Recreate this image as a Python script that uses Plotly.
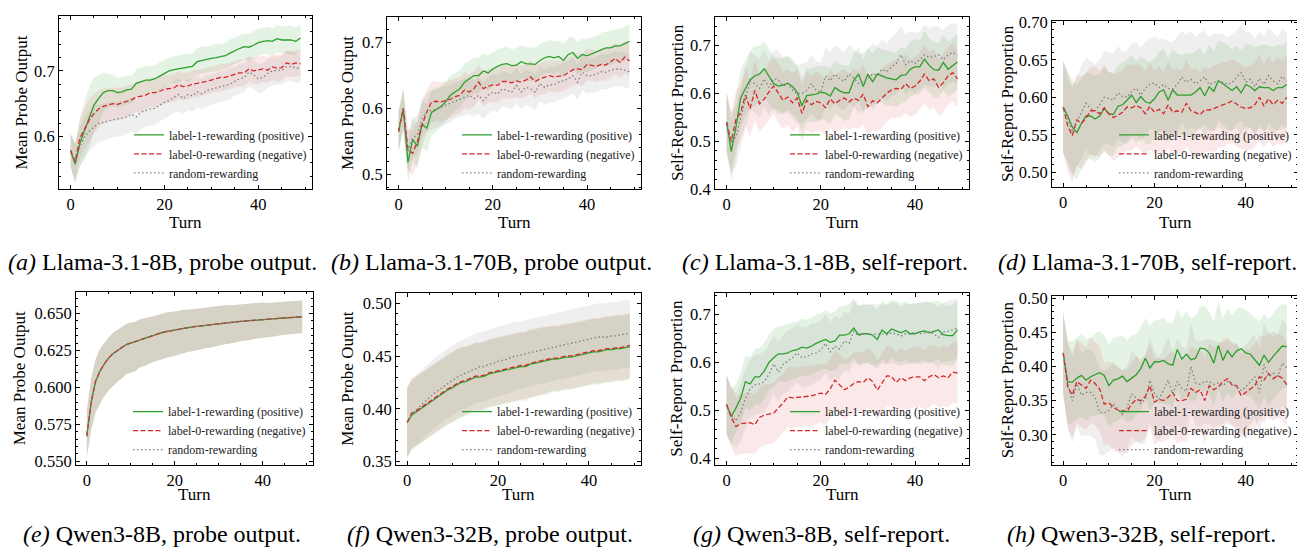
import plotly.graph_objects as go

turns = list(range(50))

# ---------------- (a) Llama-3.1-8B, probe output ----------------
l8_probe_pos = [0.579,0.558,0.590,0.610,0.630,0.648,0.658,0.667,0.670,0.670,
                0.667,0.668,0.671,0.672,0.681,0.684,0.686,0.686,0.688,0.692,
                0.696,0.700,0.702,0.703,0.705,0.705,0.707,0.714,0.716,0.717,
                0.719,0.720,0.721,0.723,0.727,0.731,0.734,0.737,0.736,0.739,
                0.743,0.745,0.746,0.745,0.749,0.747,0.747,0.747,0.745,0.750]
l8_probe_neg = [0.579,0.562,0.598,0.612,0.625,0.635,0.642,0.646,0.648,0.650,
                0.649,0.651,0.654,0.656,0.660,0.661,0.663,0.667,0.667,0.669,
                0.672,0.673,0.674,0.679,0.676,0.677,0.680,0.681,0.682,0.684,
                0.686,0.688,0.690,0.690,0.692,0.695,0.697,0.697,0.703,0.700,
                0.701,0.703,0.701,0.706,0.704,0.705,0.712,0.710,0.712,0.711]
l8_probe_rand = [0.579,0.560,0.585,0.600,0.608,0.615,0.620,0.622,0.624,0.626,
                 0.627,0.628,0.630,0.634,0.630,0.637,0.640,0.642,0.643,0.648,
                 0.652,0.655,0.660,0.664,0.658,0.664,0.662,0.668,0.665,0.670,
                 0.672,0.674,0.676,0.678,0.680,0.684,0.688,0.690,0.698,0.694,
                 0.688,0.690,0.696,0.700,0.700,0.701,0.706,0.707,0.704,0.704]
l8_probe_pos_err = [0.025,0.030,0.035,0.045,0.046,0.042,0.036,0.030,0.026,0.024,
                    0.023,0.022,0.022,0.021,0.021,0.022,0.021,0.021,0.020,0.021,
                    0.021,0.020,0.020,0.021,0.020,0.021,0.020,0.020,0.021,0.020,
                    0.020,0.021,0.020,0.020,0.021,0.020,0.021,0.020,0.020,0.021,
                    0.021,0.020,0.021,0.020,0.021,0.020,0.021,0.022,0.021,0.021]
l8_probe_neg_err = [0.025,0.028,0.030,0.032,0.032,0.030,0.028,0.027,0.026,0.025,
                    0.025,0.024,0.024,0.023,0.023,0.023,0.022,0.022,0.022,0.022,
                    0.022,0.021,0.021,0.021,0.021,0.021,0.021,0.021,0.020,0.021,
                    0.020,0.020,0.021,0.020,0.020,0.020,0.021,0.020,0.020,0.020,
                    0.021,0.020,0.020,0.020,0.021,0.020,0.020,0.020,0.020,0.020]
l8_probe_rand_err = [0.025,0.030,0.030,0.030,0.030,0.030,0.029,0.028,0.028,0.027,
                     0.027,0.027,0.026,0.026,0.026,0.026,0.025,0.025,0.025,0.025,
                     0.025,0.024,0.024,0.025,0.024,0.024,0.024,0.024,0.023,0.024,
                     0.023,0.023,0.023,0.023,0.023,0.022,0.023,0.022,0.022,0.022,
                     0.022,0.022,0.022,0.022,0.022,0.022,0.022,0.022,0.022,0.022]

# ---------------- (b) Llama-3.1-70B, probe output ----------------
l70_probe_pos = [0.565,0.600,0.518,0.553,0.543,0.576,0.570,0.594,0.598,0.603,
                 0.610,0.620,0.625,0.630,0.640,0.645,0.650,0.650,0.657,0.654,
                 0.660,0.664,0.667,0.668,0.665,0.666,0.671,0.668,0.667,0.667,
                 0.673,0.677,0.679,0.677,0.679,0.673,0.682,0.685,0.676,0.682,
                 0.680,0.683,0.686,0.690,0.692,0.692,0.695,0.695,0.698,0.702]
l70_probe_neg = [0.565,0.600,0.538,0.532,0.550,0.575,0.595,0.610,0.611,0.610,
                 0.612,0.614,0.618,0.620,0.628,0.625,0.630,0.640,0.630,0.634,
                 0.636,0.635,0.641,0.641,0.639,0.642,0.640,0.643,0.648,0.641,
                 0.645,0.647,0.650,0.648,0.649,0.650,0.654,0.659,0.660,0.659,
                 0.667,0.666,0.664,0.667,0.666,0.671,0.676,0.670,0.678,0.672]
l70_probe_rand = [0.565,0.598,0.535,0.555,0.560,0.585,0.595,0.597,0.600,0.602,
                  0.605,0.608,0.612,0.615,0.618,0.620,0.615,0.620,0.612,0.620,
                  0.625,0.622,0.630,0.628,0.625,0.635,0.625,0.632,0.630,0.625,
                  0.638,0.632,0.636,0.636,0.640,0.642,0.645,0.650,0.640,0.655,
                  0.650,0.650,0.652,0.656,0.655,0.658,0.660,0.660,0.658,0.656]
l70_probe_pos_err = [0.030,0.030,0.030,0.032,0.034,0.036,0.036,0.035,0.033,0.031,
                     0.030,0.030,0.029,0.029,0.028,0.028,0.027,0.027,0.026,0.027,
                     0.026,0.026,0.025,0.026,0.025,0.026,0.025,0.025,0.026,0.025,
                     0.025,0.024,0.025,0.025,0.024,0.025,0.025,0.024,0.025,0.025,
                     0.025,0.025,0.024,0.025,0.025,0.026,0.025,0.026,0.026,0.026]
l70_probe_neg_err = [0.030,0.030,0.032,0.033,0.034,0.033,0.032,0.031,0.030,0.030,
                     0.029,0.029,0.028,0.028,0.028,0.027,0.027,0.027,0.026,0.026,
                     0.026,0.026,0.026,0.025,0.025,0.025,0.025,0.025,0.025,0.025,
                     0.024,0.025,0.024,0.024,0.024,0.024,0.024,0.024,0.024,0.024,
                     0.024,0.024,0.024,0.024,0.024,0.024,0.024,0.024,0.024,0.024]
l70_probe_rand_err = [0.030,0.030,0.030,0.030,0.030,0.030,0.030,0.029,0.029,0.029,
                      0.029,0.029,0.028,0.028,0.028,0.028,0.028,0.028,0.028,0.028,
                      0.028,0.028,0.027,0.027,0.027,0.027,0.027,0.027,0.027,0.027,
                      0.027,0.027,0.027,0.027,0.027,0.027,0.027,0.027,0.027,0.027,
                      0.027,0.026,0.027,0.026,0.027,0.026,0.027,0.026,0.027,0.026]

# ---------------- (c) Llama-3.1-8B, self-report ----------------
l8_self_pos = [0.540,0.478,0.530,0.590,0.610,0.628,0.636,0.640,0.651,0.635,
               0.620,0.615,0.617,0.621,0.614,0.602,0.574,0.595,0.596,0.598,
               0.602,0.600,0.594,0.612,0.605,0.601,0.601,0.627,0.640,0.614,
               0.640,0.624,0.640,0.636,0.632,0.630,0.628,0.637,0.638,0.650,
               0.655,0.655,0.671,0.658,0.649,0.648,0.664,0.650,0.658,0.665]
l8_self_neg = [0.540,0.500,0.545,0.560,0.596,0.568,0.606,0.578,0.588,0.603,
               0.615,0.600,0.585,0.592,0.580,0.590,0.558,0.585,0.576,0.583,
               0.580,0.570,0.588,0.578,0.585,0.590,0.582,0.590,0.585,0.598,
               0.572,0.584,0.580,0.590,0.600,0.607,0.610,0.608,0.620,0.610,
               0.615,0.625,0.640,0.626,0.630,0.612,0.622,0.636,0.643,0.630]
l8_self_rand = [0.540,0.495,0.510,0.550,0.590,0.626,0.620,0.610,0.630,0.612,
                0.630,0.628,0.615,0.620,0.606,0.598,0.600,0.605,0.620,0.606,
                0.602,0.636,0.626,0.640,0.630,0.625,0.640,0.632,0.620,0.625,
                0.630,0.640,0.638,0.650,0.645,0.655,0.662,0.680,0.660,0.668,
                0.662,0.670,0.680,0.675,0.676,0.680,0.670,0.680,0.685,0.680]
l8_self_pos_err = [0.062,0.060,0.064,0.060,0.058,0.060,0.062,0.059,0.057,0.058,
                   0.056,0.058,0.057,0.055,0.058,0.056,0.055,0.057,0.056,0.058,
                   0.055,0.057,0.059,0.056,0.055,0.058,0.056,0.057,0.055,0.058,
                   0.056,0.059,0.057,0.055,0.058,0.056,0.057,0.059,0.056,0.058,
                   0.057,0.056,0.059,0.057,0.058,0.056,0.059,0.057,0.058,0.057]
l8_self_neg_err = [0.062,0.062,0.060,0.058,0.061,0.059,0.062,0.060,0.058,0.061,
                   0.059,0.062,0.060,0.058,0.061,0.060,0.058,0.061,0.059,0.062,
                   0.060,0.058,0.061,0.059,0.062,0.060,0.058,0.061,0.059,0.062,
                   0.060,0.061,0.059,0.062,0.060,0.058,0.061,0.059,0.062,0.060,
                   0.061,0.059,0.062,0.060,0.061,0.059,0.062,0.060,0.061,0.060]
l8_self_rand_err = [0.062,0.064,0.062,0.060,0.063,0.061,0.060,0.062,0.060,0.058,
                    0.060,0.062,0.059,0.061,0.058,0.060,0.062,0.059,0.061,0.060,
                    0.062,0.059,0.061,0.060,0.063,0.060,0.061,0.059,0.062,0.060,
                    0.061,0.063,0.060,0.062,0.059,0.061,0.063,0.060,0.062,0.061,
                    0.063,0.060,0.062,0.061,0.063,0.060,0.062,0.061,0.062,0.061]

# ---------------- (d) Llama-3.1-70B, self-report ----------------
l70_self_pos = [0.587,0.575,0.560,0.553,0.565,0.575,0.575,0.571,0.575,0.585,
                0.578,0.577,0.588,0.590,0.596,0.603,0.593,0.601,0.594,0.592,
                0.598,0.607,0.610,0.596,0.610,0.603,0.603,0.603,0.603,0.607,
                0.613,0.602,0.614,0.608,0.622,0.618,0.614,0.609,0.614,0.606,
                0.617,0.614,0.609,0.614,0.613,0.613,0.609,0.613,0.613,0.617]
l70_self_neg = [0.587,0.562,0.549,0.570,0.565,0.572,0.582,0.582,0.578,0.586,
                0.578,0.573,0.576,0.580,0.587,0.586,0.589,0.586,0.578,0.588,
                0.580,0.584,0.578,0.590,0.580,0.582,0.580,0.592,0.582,0.580,
                0.577,0.583,0.583,0.585,0.588,0.590,0.592,0.595,0.591,0.587,
                0.585,0.586,0.590,0.600,0.588,0.598,0.590,0.596,0.592,0.600]
l70_self_rand = [0.587,0.570,0.555,0.568,0.580,0.592,0.585,0.582,0.590,0.600,
                 0.598,0.596,0.606,0.601,0.600,0.608,0.612,0.603,0.612,0.618,
                 0.619,0.613,0.617,0.612,0.611,0.617,0.627,0.620,0.624,0.618,
                 0.622,0.627,0.617,0.620,0.622,0.620,0.617,0.620,0.627,0.633,
                 0.620,0.624,0.614,0.625,0.617,0.629,0.622,0.618,0.628,0.622]
l70_self_pos_err = [0.061,0.060,0.062,0.063,0.060,0.058,0.057,0.058,0.056,0.055,
                    0.056,0.055,0.054,0.056,0.055,0.053,0.055,0.054,0.056,0.055,
                    0.054,0.053,0.055,0.056,0.054,0.055,0.053,0.056,0.055,0.054,
                    0.053,0.055,0.056,0.054,0.053,0.055,0.056,0.054,0.055,0.057,
                    0.055,0.056,0.058,0.055,0.057,0.056,0.058,0.057,0.056,0.058]
l70_self_neg_err = [0.061,0.062,0.063,0.060,0.062,0.060,0.058,0.059,0.057,0.058,
                    0.056,0.058,0.057,0.056,0.058,0.057,0.055,0.057,0.056,0.058,
                    0.056,0.057,0.055,0.058,0.056,0.057,0.055,0.057,0.056,0.058,
                    0.056,0.057,0.055,0.058,0.056,0.057,0.055,0.056,0.057,0.056,
                    0.055,0.057,0.056,0.058,0.055,0.057,0.056,0.058,0.056,0.057]
l70_self_rand_err = [0.061,0.062,0.061,0.060,0.062,0.061,0.063,0.062,0.060,0.062,
                     0.061,0.063,0.062,0.060,0.062,0.064,0.061,0.063,0.062,0.060,
                     0.062,0.064,0.061,0.063,0.062,0.064,0.061,0.063,0.065,0.062,
                     0.064,0.062,0.063,0.065,0.062,0.064,0.063,0.065,0.062,0.064,
                     0.066,0.063,0.064,0.062,0.065,0.063,0.064,0.062,0.063,0.064]

# ---------------- (e) Qwen3-8B, probe output ----------------
q8_probe_pos = [0.567,0.590,0.604,0.611,0.616,0.620,0.623,0.625,0.627,0.629,
                0.630,0.631,0.6325,0.6335,0.6345,0.635,0.636,0.637,0.6377,0.6383,
                0.639,0.6395,0.640,0.6405,0.641,0.6413,0.6417,0.642,0.6424,0.6428,
                0.6432,0.6435,0.6438,0.6441,0.6444,0.6447,0.645,0.6453,0.6455,0.6457,
                0.646,0.6462,0.6464,0.6466,0.6468,0.647,0.6472,0.6474,0.6476,0.6478]
q8_probe_neg = [0.567,0.590,0.604,0.611,0.616,0.620,0.623,0.625,0.627,0.629,
                0.630,0.631,0.6325,0.6335,0.6345,0.635,0.636,0.637,0.6377,0.6383,
                0.639,0.6395,0.640,0.6405,0.641,0.6413,0.6417,0.642,0.6424,0.6428,
                0.6432,0.6435,0.6438,0.6441,0.6444,0.6447,0.645,0.6453,0.6455,0.6457,
                0.646,0.6462,0.6464,0.6466,0.6468,0.647,0.6472,0.6474,0.6476,0.6478]
q8_probe_rand = [0.567,0.590,0.604,0.611,0.616,0.620,0.623,0.625,0.627,0.629,
                 0.630,0.631,0.6325,0.6335,0.6345,0.635,0.636,0.637,0.6377,0.6383,
                 0.639,0.6395,0.640,0.6405,0.641,0.6413,0.6417,0.642,0.6424,0.6428,
                 0.6432,0.6435,0.6438,0.6441,0.6444,0.6447,0.645,0.6453,0.6455,0.6457,
                 0.646,0.6462,0.6464,0.6466,0.6468,0.647,0.6472,0.6474,0.6476,0.6478]
q8_probe_err_hi = [0.017,0.016,0.015,0.015,0.014,0.014,0.014,0.014,0.014,0.014,
                   0.014,0.0135,0.0135,0.0135,0.013,0.013,0.013,0.013,0.013,0.0125,
                   0.0125,0.0125,0.0125,0.012,0.012,0.012,0.012,0.012,0.012,0.012,
                   0.012,0.012,0.012,0.0115,0.0115,0.0115,0.0115,0.0115,0.0115,0.0115,
                   0.0115,0.011,0.011,0.011,0.011,0.011,0.011,0.011,0.011,0.011]
q8_probe_err_lo = [0.014,0.019,0.021,0.022,0.022,0.022,0.022,0.021,0.021,0.020,
                   0.020,0.020,0.019,0.019,0.019,0.018,0.018,0.018,0.018,0.0175,
                   0.0175,0.017,0.017,0.0165,0.0165,0.016,0.016,0.0155,0.0155,0.015,
                   0.015,0.0145,0.0145,0.014,0.014,0.0135,0.0135,0.013,0.013,0.0125,
                   0.0125,0.012,0.012,0.012,0.0115,0.0115,0.0115,0.011,0.011,0.011]

# ---------------- (f) Qwen3-32B, probe output ----------------
q32_probe_pos = [0.387,0.394,0.397,0.400,0.403,0.406,0.409,0.412,0.415,0.418,
                 0.420,0.423,0.425,0.426,0.428,0.430,0.430,0.431,0.433,0.434,
                 0.435,0.436,0.437,0.438,0.439,0.440,0.440,0.442,0.443,0.444,
                 0.445,0.446,0.447,0.447,0.448,0.449,0.449,0.450,0.451,0.452,
                 0.453,0.454,0.454,0.455,0.456,0.456,0.457,0.457,0.458,0.459]
q32_probe_neg = [0.387,0.396,0.398,0.401,0.404,0.407,0.410,0.413,0.416,0.419,
                 0.421,0.424,0.426,0.427,0.429,0.431,0.431,0.432,0.434,0.435,
                 0.436,0.437,0.438,0.439,0.440,0.441,0.441,0.443,0.444,0.445,
                 0.446,0.447,0.448,0.448,0.449,0.450,0.450,0.451,0.452,0.453,
                 0.454,0.455,0.455,0.456,0.457,0.457,0.458,0.458,0.459,0.460]
q32_probe_rand = [0.387,0.395,0.399,0.403,0.407,0.411,0.415,0.418,0.421,0.424,
                  0.427,0.430,0.432,0.434,0.436,0.438,0.440,0.440,0.442,0.443,
                  0.445,0.446,0.447,0.449,0.450,0.451,0.452,0.453,0.454,0.455,
                  0.456,0.457,0.458,0.459,0.460,0.461,0.462,0.463,0.464,0.465,
                  0.466,0.467,0.468,0.468,0.468,0.469,0.469,0.470,0.471,0.471]
q32_probe_pos_err = [0.033,0.033,0.033,0.033,0.033,0.033,0.033,0.033,0.033,0.033,
                     0.033,0.033,0.033,0.033,0.032,0.032,0.032,0.032,0.032,0.032,
                     0.032,0.032,0.032,0.032,0.032,0.032,0.032,0.032,0.032,0.032,
                     0.032,0.032,0.031,0.031,0.031,0.031,0.031,0.031,0.031,0.031,
                     0.031,0.031,0.031,0.031,0.031,0.031,0.031,0.031,0.031,0.031]
q32_probe_neg_err = [0.033,0.033,0.033,0.033,0.033,0.033,0.033,0.033,0.033,0.033,
                     0.033,0.033,0.033,0.032,0.032,0.032,0.032,0.032,0.032,0.032,
                     0.032,0.032,0.032,0.032,0.032,0.032,0.032,0.032,0.032,0.032,
                     0.032,0.031,0.031,0.031,0.031,0.031,0.031,0.031,0.031,0.031,
                     0.031,0.031,0.031,0.031,0.031,0.031,0.031,0.031,0.031,0.031]
q32_probe_rand_err = [0.033,0.033,0.033,0.033,0.033,0.033,0.033,0.033,0.033,0.033,
                      0.033,0.033,0.033,0.033,0.033,0.033,0.033,0.033,0.033,0.033,
                      0.033,0.033,0.033,0.033,0.032,0.032,0.032,0.032,0.032,0.032,
                      0.032,0.032,0.032,0.032,0.032,0.032,0.032,0.032,0.032,0.032,
                      0.032,0.032,0.032,0.032,0.032,0.032,0.032,0.032,0.032,0.032]

# ---------------- (g) Qwen3-8B, self-report ----------------
q8_self_pos = [0.512,0.487,0.505,0.525,0.560,0.555,0.570,0.570,0.582,0.600,
               0.610,0.618,0.618,0.620,0.625,0.627,0.632,0.630,0.634,0.640,
               0.644,0.648,0.642,0.645,0.657,0.657,0.660,0.672,0.658,0.660,
               0.660,0.657,0.648,0.668,0.660,0.670,0.666,0.662,0.667,0.660,
               0.660,0.664,0.666,0.662,0.665,0.668,0.658,0.656,0.656,0.668]
q8_self_neg = [0.512,0.485,0.466,0.472,0.473,0.474,0.470,0.485,0.490,0.492,
               0.494,0.505,0.515,0.528,0.526,0.527,0.528,0.530,0.530,0.533,
               0.536,0.533,0.545,0.563,0.553,0.543,0.548,0.556,0.560,0.558,
               0.568,0.560,0.542,0.556,0.572,0.571,0.558,0.568,0.562,0.568,
               0.570,0.570,0.562,0.570,0.575,0.568,0.572,0.568,0.580,0.578]
q8_self_rand = [0.512,0.490,0.478,0.495,0.525,0.545,0.553,0.555,0.560,0.575,
                0.597,0.580,0.596,0.603,0.610,0.620,0.610,0.612,0.618,0.620,
                0.626,0.640,0.622,0.634,0.628,0.645,0.640,0.665,0.655,0.660,
                0.660,0.658,0.660,0.660,0.658,0.662,0.660,0.655,0.660,0.660,
                0.663,0.660,0.662,0.664,0.660,0.652,0.664,0.665,0.668,0.672]
q8_self_pos_err = [0.062,0.058,0.050,0.052,0.055,0.056,0.058,0.060,0.059,0.058,
                   0.060,0.058,0.059,0.061,0.060,0.058,0.060,0.059,0.061,0.060,
                   0.059,0.061,0.060,0.062,0.060,0.061,0.063,0.061,0.062,0.060,
                   0.061,0.063,0.062,0.060,0.062,0.061,0.063,0.062,0.061,0.062,
                   0.063,0.061,0.062,0.064,0.062,0.061,0.063,0.062,0.064,0.062]
q8_self_neg_err = [0.062,0.063,0.062,0.063,0.064,0.063,0.062,0.063,0.064,0.062,
                   0.063,0.064,0.062,0.063,0.064,0.062,0.063,0.062,0.064,0.063,
                   0.062,0.064,0.063,0.062,0.064,0.063,0.062,0.064,0.063,0.062,
                   0.063,0.064,0.062,0.063,0.064,0.062,0.063,0.064,0.062,0.063,
                   0.064,0.062,0.063,0.064,0.062,0.063,0.064,0.062,0.063,0.063]
q8_self_rand_err = [0.062,0.060,0.058,0.060,0.062,0.061,0.063,0.062,0.064,0.062,
                    0.061,0.063,0.062,0.064,0.062,0.061,0.063,0.062,0.064,0.062,
                    0.063,0.061,0.062,0.064,0.063,0.061,0.062,0.064,0.062,0.063,
                    0.062,0.064,0.063,0.061,0.062,0.063,0.064,0.062,0.063,0.061,
                    0.062,0.064,0.063,0.062,0.063,0.064,0.062,0.063,0.064,0.062]

# ---------------- (h) Qwen3-32B, self-report ----------------
q32_self_pos = [0.420,0.377,0.377,0.383,0.387,0.380,0.385,0.388,0.391,0.387,
                0.372,0.380,0.382,0.386,0.378,0.383,0.388,0.397,0.412,0.398,
                0.407,0.407,0.409,0.404,0.402,0.425,0.411,0.418,0.410,0.412,
                0.427,0.426,0.420,0.405,0.431,0.409,0.423,0.414,0.423,0.426,
                0.420,0.418,0.410,0.402,0.417,0.406,0.415,0.423,0.430,0.429]
q32_self_neg = [0.420,0.370,0.358,0.378,0.373,0.368,0.380,0.375,0.367,0.345,
                0.347,0.340,0.336,0.335,0.334,0.345,0.352,0.350,0.356,0.372,
                0.348,0.352,0.350,0.355,0.362,0.350,0.350,0.352,0.368,0.362,
                0.366,0.350,0.372,0.366,0.370,0.378,0.382,0.373,0.372,0.357,
                0.362,0.366,0.372,0.385,0.380,0.390,0.382,0.387,0.383,0.373]
q32_self_rand = [0.420,0.375,0.350,0.375,0.358,0.362,0.362,0.355,0.333,0.332,
                 0.336,0.344,0.338,0.330,0.340,0.360,0.354,0.346,0.352,0.380,
                 0.360,0.352,0.366,0.380,0.360,0.378,0.368,0.364,0.400,0.376,
                 0.374,0.378,0.378,0.374,0.376,0.372,0.378,0.375,0.370,0.365,
                 0.370,0.378,0.385,0.362,0.403,0.385,0.390,0.386,0.405,0.398]
q32_self_pos_err = [0.060,0.061,0.060,0.059,0.061,0.060,0.058,0.060,0.061,0.059,
                    0.060,0.062,0.061,0.059,0.060,0.062,0.060,0.061,0.059,0.062,
                    0.060,0.061,0.063,0.060,0.062,0.059,0.061,0.063,0.060,0.062,
                    0.061,0.063,0.060,0.062,0.064,0.061,0.063,0.060,0.062,0.061,
                    0.063,0.060,0.062,0.064,0.061,0.063,0.062,0.064,0.062,0.061]
q32_self_neg_err = [0.060,0.062,0.063,0.061,0.062,0.060,0.063,0.061,0.062,0.060,
                    0.061,0.063,0.062,0.060,0.062,0.061,0.063,0.060,0.062,0.061,
                    0.063,0.061,0.060,0.062,0.061,0.063,0.060,0.062,0.061,0.063,
                    0.060,0.062,0.061,0.063,0.060,0.062,0.061,0.060,0.062,0.061,
                    0.063,0.060,0.062,0.061,0.063,0.060,0.062,0.061,0.063,0.062]
q32_self_rand_err = [0.060,0.064,0.062,0.063,0.061,0.062,0.064,0.061,0.063,0.062,
                     0.061,0.063,0.062,0.064,0.061,0.062,0.063,0.061,0.064,0.062,
                     0.063,0.061,0.062,0.064,0.061,0.063,0.062,0.061,0.064,0.062,
                     0.063,0.061,0.062,0.064,0.061,0.063,0.062,0.061,0.063,0.062,
                     0.061,0.063,0.062,0.064,0.061,0.063,0.062,0.061,0.063,0.062]

series_names = ["label-1-rewarding (positive)",
                "label-0-rewarding (negative)",
                "random-rewarding"]
captions = ["<i>(a)</i> Llama-3.1-8B, probe output.",
            "<i>(b)</i> Llama-3.1-70B, probe output.",
            "<i>(c)</i> Llama-3.1-8B, self-report.",
            "<i>(d)</i> Llama-3.1-70B, self-report.",
            "<i>(e)</i> Qwen3-8B, probe output.",
            "<i>(f)</i> Qwen3-32B, probe output.",
            "<i>(g)</i> Qwen3-8B, self-report.",
            "<i>(h)</i> Qwen3-32B, self-report."]
x_title = "Turn"
y_titles = ["Mean Probe Output", "Mean Probe Output", "Self-Report Proportion", "Self-Report Proportion",
            "Mean Probe Output", "Mean Probe Output", "Self-Report Proportion", "Self-Report Proportion"]

# (mean, err_low, err_high) for positive / negative / random
panel_data = [
    [(l8_probe_pos, l8_probe_pos_err, l8_probe_pos_err), (l8_probe_neg, l8_probe_neg_err, l8_probe_neg_err), (l8_probe_rand, l8_probe_rand_err, l8_probe_rand_err)],
    [(l70_probe_pos, l70_probe_pos_err, l70_probe_pos_err), (l70_probe_neg, l70_probe_neg_err, l70_probe_neg_err), (l70_probe_rand, l70_probe_rand_err, l70_probe_rand_err)],
    [(l8_self_pos, l8_self_pos_err, l8_self_pos_err), (l8_self_neg, l8_self_neg_err, l8_self_neg_err), (l8_self_rand, l8_self_rand_err, l8_self_rand_err)],
    [(l70_self_pos, l70_self_pos_err, l70_self_pos_err), (l70_self_neg, l70_self_neg_err, l70_self_neg_err), (l70_self_rand, l70_self_rand_err, l70_self_rand_err)],
    [(q8_probe_pos, q8_probe_err_lo, q8_probe_err_hi), (q8_probe_neg, q8_probe_err_lo, q8_probe_err_hi), (q8_probe_rand, q8_probe_err_lo, q8_probe_err_hi)],
    [(q32_probe_pos, q32_probe_pos_err, q32_probe_pos_err), (q32_probe_neg, q32_probe_neg_err, q32_probe_neg_err), (q32_probe_rand, q32_probe_rand_err, q32_probe_rand_err)],
    [(q8_self_pos, q8_self_pos_err, q8_self_pos_err), (q8_self_neg, q8_self_neg_err, q8_self_neg_err), (q8_self_rand, q8_self_rand_err, q8_self_rand_err)],
    [(q32_self_pos, q32_self_pos_err, q32_self_pos_err), (q32_self_neg, q32_self_neg_err, q32_self_neg_err), (q32_self_rand, q32_self_rand_err, q32_self_rand_err)],
]

# ---------------- layout ----------------
# Positions below are in page pixels of the 1305x558 window; the page body has an
# 8px default margin, so the figure is offset by 8px and sized to end at the window edge.
PAGE_OFF = 8
W, H = 1305 - PAGE_OFF, 558 - PAGE_OFF
FONT = "Liberation Serif"

def px_x(p):
    return min(1.0, max(0.0, (p - PAGE_OFF) / W))

def px_y(p):
    return min(1.0, max(0.0, 1 - (p - PAGE_OFF) / H))

panel_layout = [
    dict(xpx=(59, 312),   ypx=(8, 187),   yr=(0.520, 0.7835), dt=0.1,  mdt=0.02,  fmt=".1f", leg=(129, 116), cap=(162, 262), ytx=22,   xty=221),
    dict(xpx=(387, 641),  ypx=(9, 187),   yr=(0.4775, 0.739), dt=0.1,  mdt=0.02,  fmt=".1f", leg=(457, 116), cap=(491, 262), ytx=347,  xty=221),
    dict(xpx=(715, 969),  ypx=(9, 187),   yr=(0.400, 0.759), dt=0.1,   mdt=0.02,  fmt=".1f", leg=(785, 116), cap=(825, 262), ytx=677,  xty=221),
    dict(xpx=(1052, 1298), ypx=(13, 185), yr=(0.480, 0.702), dt=0.05,  mdt=0.01,  fmt=".2f", leg=(1114, 116), cap=(1147, 262), ytx=1007, xty=221),
    dict(xpx=(76, 313),   ypx=(293, 472), yr=(0.5476, 0.6648), dt=0.025, mdt=0.005, fmt=".3f", leg=(128, 402), cap=(162, 544), ytx=19,   xty=503),
    dict(xpx=(396, 641),  ypx=(294, 472), yr=(0.347, 0.510), dt=0.05,  mdt=0.01,  fmt=".2f", leg=(457, 402), cap=(490, 544), ytx=348,  xty=503),
    dict(xpx=(715, 969),  ypx=(294, 472), yr=(0.386, 0.746), dt=0.1,   mdt=0.02,  fmt=".1f", leg=(785, 402), cap=(821, 544), ytx=677,  xty=503),
    dict(xpx=(1052, 1298), ypx=(297, 472), yr=(0.256, 0.504), dt=0.05,  mdt=0.01,  fmt=".2f", leg=(1114, 402), cap=(1141, 544), ytx=1007, xty=503),
]

line_colors = ["#2ca02c", "#d62728", "#7f7f7f"]
fill_colors = ["rgba(44,160,44,0.12)", "rgba(214,39,40,0.10)", "rgba(127,127,127,0.12)"]
dashes = ["solid", "5px,2.5px", "1.5px,2.5px"]

fig = go.Figure()
layout = dict(width=W, height=H, margin=dict(l=0, r=0, t=0, b=0),
              paper_bgcolor="white", plot_bgcolor="white",
              font=dict(family=FONT, color="black"), annotations=[])

def ann(text, x, y, size, angle=0):
    return dict(text=text, xref="paper", yref="paper", x=px_x(x), y=px_y(y),
                xanchor="center", yanchor="middle", showarrow=False, textangle=angle,
                font=dict(family=FONT, size=size, color="black"))

for i, (data, pl) in enumerate(zip(panel_data, panel_layout), start=1):
    xa = "x" if i == 1 else f"x{i}"
    ya = "y" if i == 1 else f"y{i}"
    lg = "legend" if i == 1 else f"legend{i}"
    # bands
    for (mean, elo, ehi), fc in zip(data, fill_colors):
        upper = [m + e for m, e in zip(mean, ehi)]
        lower = [m - e for m, e in zip(mean, elo)]
        fig.add_trace(go.Scatter(x=turns + turns[::-1], y=upper + lower[::-1],
                                 fill="toself", fillcolor=fc, line=dict(width=0),
                                 mode="lines", hoverinfo="skip", showlegend=False,
                                 xaxis=xa, yaxis=ya))
    # lines
    for (mean, elo, ehi), lc, dash, name in zip(data, line_colors, dashes, series_names):
        fig.add_trace(go.Scatter(x=turns, y=mean, mode="lines", name=name,
                                 line=dict(color=lc, width=1.3, dash=dash),
                                 legend=lg, xaxis=xa, yaxis=ya))
    xk = "xaxis" if i == 1 else f"xaxis{i}"
    yk = "yaxis" if i == 1 else f"yaxis{i}"
    common = dict(showline=True, linecolor="black", linewidth=1, mirror="ticks",
                  ticks="inside", ticklen=4, tickwidth=1, tickcolor="black",
                  showgrid=False, zeroline=False,
                  tickfont=dict(family=FONT, size=16.5, color="black"))
    layout[xk] = dict(common, domain=[px_x(pl["xpx"][0]), px_x(pl["xpx"][1])], anchor=ya,
                      range=[-2.45, 51.45], tick0=0, dtick=20,
                      minor=dict(dtick=5, tick0=0, ticks="inside", ticklen=2, tickwidth=0.8, tickcolor="black", showgrid=False))
    layout[yk] = dict(common, domain=[px_y(pl["ypx"][1]), px_y(pl["ypx"][0])], anchor=xa,
                      range=list(pl["yr"]), tick0=0, dtick=pl["dt"], tickformat=pl["fmt"],
                      minor=dict(dtick=pl["mdt"], tick0=0, ticks="inside", ticklen=2, tickwidth=0.8, tickcolor="black", showgrid=False))
    layout[lg] = dict(x=px_x(pl["leg"][0]), y=px_y(pl["leg"][1]), xanchor="left", yanchor="top",
                      bgcolor="rgba(0,0,0,0)", borderwidth=0, itemwidth=30, tracegroupgap=0,
                      font=dict(family=FONT, size=12, color="#222"))
    # axis titles
    layout["annotations"].append(ann(y_titles[i - 1], pl["ytx"], (pl["ypx"][0] + pl["ypx"][1]) / 2, 17, -90))
    layout["annotations"].append(ann(x_title, (pl["xpx"][0] + pl["xpx"][1]) / 2, pl["xty"], 17))
    # caption
    layout["annotations"].append(ann(captions[i - 1], pl["cap"][0], pl["cap"][1], 24))

fig.update_layout(**layout)
fig.write_html("out.html")
